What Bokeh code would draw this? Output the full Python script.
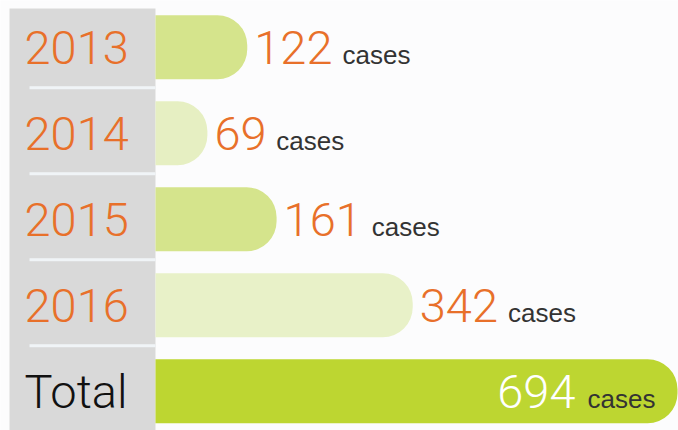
from bokeh.plotting import figure
from bokeh.models import Range1d, ColumnDataSource
from bokeh.core.properties import value
from bokeh.embed import file_html
from bokeh.resources import INLINE

# ---- data ----
rows = ["2013", "2014", "2015", "2016", "Total"]
cases = [122, 69, 161, 342, 694]
unit = "cases"

# ---- styles ----
bar_colors = ["#d5e48c", "#e6efc2", "#d5e48c", "#e8f1c8", "#bdd631"]
row_label_colors = ["#e8702a", "#e8702a", "#e8702a", "#e8702a", "#111111"]
ORANGE = "#e8702a"
DARK = "#333333"
LIGHT_FONT = "Roboto Light"
UNIT_FONT = "Liberation Sans"
BIG = 47
SMALL = 26

W, H = 678, 430
ORIGIN = 155          # px where zero cases sits
PX = (677 - ORIGIN) / max(cases)   # px per case
TOP = 46.8            # px of first row centre
STEP = 86.0           # px between rows


def px_to_x(px):
    return (px - ORIGIN) / PX


p = figure(width=W, height=H,
           x_range=Range1d(px_to_x(0), px_to_x(W)),
           y_range=Range1d((H - TOP) / STEP, -TOP / STEP),
           output_backend="svg", toolbar_location=None,
           x_axis_location=None, y_axis_location=None,
           min_border=0, outline_line_color=None,
           background_fill_color="#fcfcfd", border_fill_color="#fcfcfd")
p.grid.visible = False

ys = list(range(len(rows)))

# grey label panel
p.quad(left=px_to_x(9), right=0, top=p.y_range.end + 8 / STEP, bottom=p.y_range.start,
       fill_color="#d9d9d9", line_color=None)
# separators
sep_y = [i + 0.47 for i in ys[:-1]]
p.segment(x0=px_to_x(29), x1=0, y0=sep_y, y1=sep_y, line_color="#f0f4f7", line_width=3)

# bars
p.hbar(y=ys, left=0, right=cases, height=64 / STEP, fill_color=bar_colors,
       line_color=None, border_radius=(0, 30, 30, 0))

unit_y = [y + 8 / STEP for y in ys]

# row labels
p.text(x=px_to_x(24), y=ys, text=rows, text_color=row_label_colors,
       text_font=value(LIGHT_FONT), text_font_size=f"{BIG}px",
       text_baseline="middle", text_align="left")

# value labels outside bars
n = len(rows) - 1
digit_w = 0.562 * BIG
src = ColumnDataSource(dict(
    x=cases[:n], y=ys[:n], uy=unit_y[:n], num=[str(c) for c in cases[:n]],
    unit=[unit] * n,
    uoff=[7 + len(str(c)) * digit_w + 9 for c in cases[:n]],
))
p.text(x="x", y="y", text="num", source=src, x_offset=7, text_color=ORANGE,
       text_font=value(LIGHT_FONT), text_font_size=f"{BIG}px",
       text_baseline="middle", text_align="left")
p.text(x="x", y="uy", text="unit", source=src, x_offset="uoff", text_color=DARK,
       text_font=value(UNIT_FONT), text_font_size=f"{SMALL}px",
       text_baseline="middle", text_align="left")

# total label inside the bar
p.text(x=[cases[-1]], y=[ys[-1]], text=[str(cases[-1])], x_offset=-102,
       text_color="#ffffff", text_font=value(LIGHT_FONT), text_font_size=f"{BIG}px",
       text_baseline="middle", text_align="right")
p.text(x=[cases[-1]], y=[unit_y[-1]], text=[unit], x_offset=-22,
       text_color=DARK, text_font=value(UNIT_FONT), text_font_size=f"{SMALL}px",
       text_baseline="middle", text_align="right")

open("out.html", "w").write(file_html(p, INLINE))
